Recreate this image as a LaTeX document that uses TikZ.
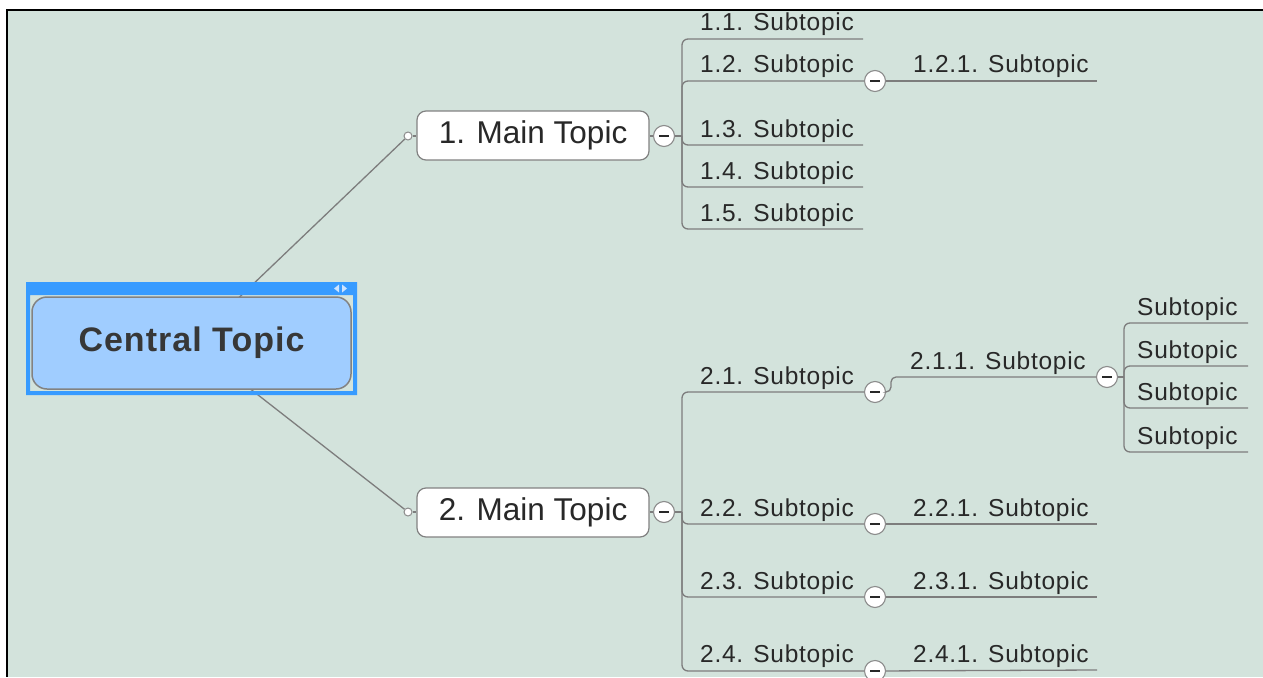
\documentclass[tikz,border=0pt]{standalone}
\usepackage{fontspec}
\setmainfont{Liberation Sans}
\newfontfamily\subtopicfont[LetterSpace=3]{Liberation Sans}
\newfontfamily\centralfont[LetterSpace=3]{Liberation Sans}

\definecolor{canvasbg}{RGB}{211,227,220}
\definecolor{linegray}{RGB}{125,125,125}
\definecolor{boxgray}{RGB}{130,130,130}
\definecolor{togglegray}{RGB}{140,140,140}
\definecolor{ink}{RGB}{40,40,40}
\definecolor{centralink}{RGB}{55,55,55}
\definecolor{selblue}{RGB}{55,155,255}
\definecolor{centralfill}{RGB}{160,205,255}
\definecolor{iconblue}{RGB}{205,228,255}

\tikzset{
  conn/.style={draw=linegray, line width=1.3pt},
  subtopic/.style={anchor=base west, inner sep=0pt, text=ink,
    font={\subtopicfont\fontsize{24.5}{29}\selectfont}},
  maintopic/.style={draw=boxgray, line width=1.2pt, fill=white, rounded corners=9pt,
    minimum width=232pt, minimum height=49pt, inner sep=0pt, text=ink,
    font={\fontsize{31.5}{36}\selectfont}},
  centraltopic/.style={draw=boxgray, line width=1.5pt, fill=centralfill, rounded corners=15pt,
    minimum width=319pt, minimum height=92pt, inner sep=0pt, text=centralink,
    font={\centralfont\bfseries\fontsize{34}{40}\selectfont}},
  toggle/.style={circle, draw=togglegray, line width=1.1pt, fill=white,
    minimum size=21pt, inner sep=0pt,
    path picture={\draw[ink, line width=1.9pt]
      ([xshift=-5pt]path picture bounding box.center) --
      ([xshift=5pt]path picture bounding box.center);}},
  endcap/.style={circle, draw=togglegray, line width=1pt, fill=white,
    minimum size=8pt, inner sep=0pt}
}

% one subtopic: name, text x, underline y, underline end x, text
\newcommand\subtopicrow[5]{%
  \node[subtopic] (#1) at (#2,#3-8) {#5};
  \coordinate (#1-e) at (#4,#3);}

\begin{document}
\begin{tikzpicture}[x=1pt,y=-1pt]
\useasboundingbox (0,0) rectangle (1263,677);
% canvas and window edge
\fill[white] (0,0) rectangle (1263,677);
\fill[canvasbg] (8,11) rectangle (1263,677);
\fill[black] (6,9) rectangle (1263,11);
\fill[black] (6,9) rectangle (8,677);

% main topics
\coordinate (ctc) at (191.5,343);
\node[maintopic] (m1) at (533,135.5) {1. Main Topic};
\node[maintopic] (m2) at (533,512.5) {2. Main Topic};
\node[endcap] (e1) at (408,136) {};
\node[endcap] (e2) at (408,512) {};
\draw[conn] (ctc) -- (e1);
\draw[conn] (ctc) -- (e2);
\draw[conn] (e1) -- (m1.west |- e1);
\draw[conn] (e2) -- (m2.west |- e2);

% selection frame and central topic
\fill[selblue, even odd rule] (26,282) rectangle (357,395) (30,295) rectangle (353,391);
\fill[iconblue] (334,288.5) -- (339,284.5) -- (339,292.5) -- cycle;
\fill[iconblue] (347,288.5) -- (342,284.5) -- (342,292.5) -- cycle;
\node[centraltopic] (ct) at (191.5,343) {Central Topic};

% branch of main topic 1
\node[toggle] (t1) at (664,136) {};
\coordinate (j1) at (682,136);
\draw[conn] (m1.east |- t1) -- (t1);
\draw[conn] (t1) -- (j1);
\subtopicrow{s11}{700}{39}{863}{1.1. Subtopic}
\subtopicrow{s12}{700}{81}{863}{1.2. Subtopic}
\subtopicrow{s13}{700}{145}{863}{1.3. Subtopic}
\subtopicrow{s14}{700}{187}{863}{1.4. Subtopic}
\subtopicrow{s15}{700}{229}{863}{1.5. Subtopic}
\node[toggle] (t12) at (875,81) {};
\subtopicrow{s121}{913}{81}{1097}{1.2.1. Subtopic}
\draw[conn, rounded corners=6pt] (j1) |- (s11-e);
\draw[conn, rounded corners=6pt] (j1) |- (t12);
\draw[conn, rounded corners=6pt] (j1) |- (s13-e);
\draw[conn, rounded corners=6pt] (j1) |- (s14-e);
\draw[conn, rounded corners=6pt] (j1) |- (s15-e);
\draw[conn] (t12) -- (s121-e);

% branch of main topic 2
\node[toggle] (t2) at (664,512) {};
\coordinate (j2) at (682,512);
\draw[conn] (m2.east |- t2) -- (t2);
\draw[conn] (t2) -- (j2);
\subtopicrow{s21}{700}{392}{863}{2.1. Subtopic}
\subtopicrow{s22}{700}{524}{863}{2.2. Subtopic}
\subtopicrow{s23}{700}{597}{863}{2.3. Subtopic}
\subtopicrow{s24}{700}{670}{863}{2.4. Subtopic}
\node[toggle] (t21) at (875,392) {};
\node[toggle] (t22) at (875,524) {};
\node[toggle] (t23) at (875,597) {};
\node[toggle] (t24) at (875,671) {};
\draw[conn, rounded corners=6pt] (j2) |- (t21);
\draw[conn, rounded corners=6pt] (j2) |- (t22);
\draw[conn, rounded corners=6pt] (j2) |- (t23);
\draw[conn, rounded corners=6pt] (j2) |- (t24);

% level three under 2.1
\coordinate (j21) at (891,392);
\subtopicrow{s211}{910}{377}{1097}{2.1.1. Subtopic}
\node[toggle] (t211) at (1107,377) {};
\draw[conn, rounded corners=5pt] (t21) -- (j21) |- (t211);
\coordinate (j211) at (1124,377);
\draw[conn] (t211) -- (j211);
\subtopicrow{sa}{1137}{323}{1248}{Subtopic}
\subtopicrow{sb}{1137}{366}{1248}{Subtopic}
\subtopicrow{sc}{1137}{408}{1248}{Subtopic}
\subtopicrow{sd}{1137}{452}{1248}{Subtopic}
\draw[conn, rounded corners=6pt] (j211) |- (sa-e);
\draw[conn, rounded corners=6pt] (j211) |- (sb-e);
\draw[conn, rounded corners=6pt] (j211) |- (sc-e);
\draw[conn, rounded corners=6pt] (j211) |- (sd-e);

% level three under 2.2 to 2.4
\subtopicrow{s221}{913}{524}{1097}{2.2.1. Subtopic}
\subtopicrow{s231}{913}{597}{1097}{2.3.1. Subtopic}
\subtopicrow{s241}{913}{670}{1097}{2.4.1. Subtopic}
\draw[conn] (t22) -- (s221-e);
\draw[conn] (t23) -- (s231-e);
\draw[conn] (t24) -- (s241-e);
\end{tikzpicture}
\end{document}
